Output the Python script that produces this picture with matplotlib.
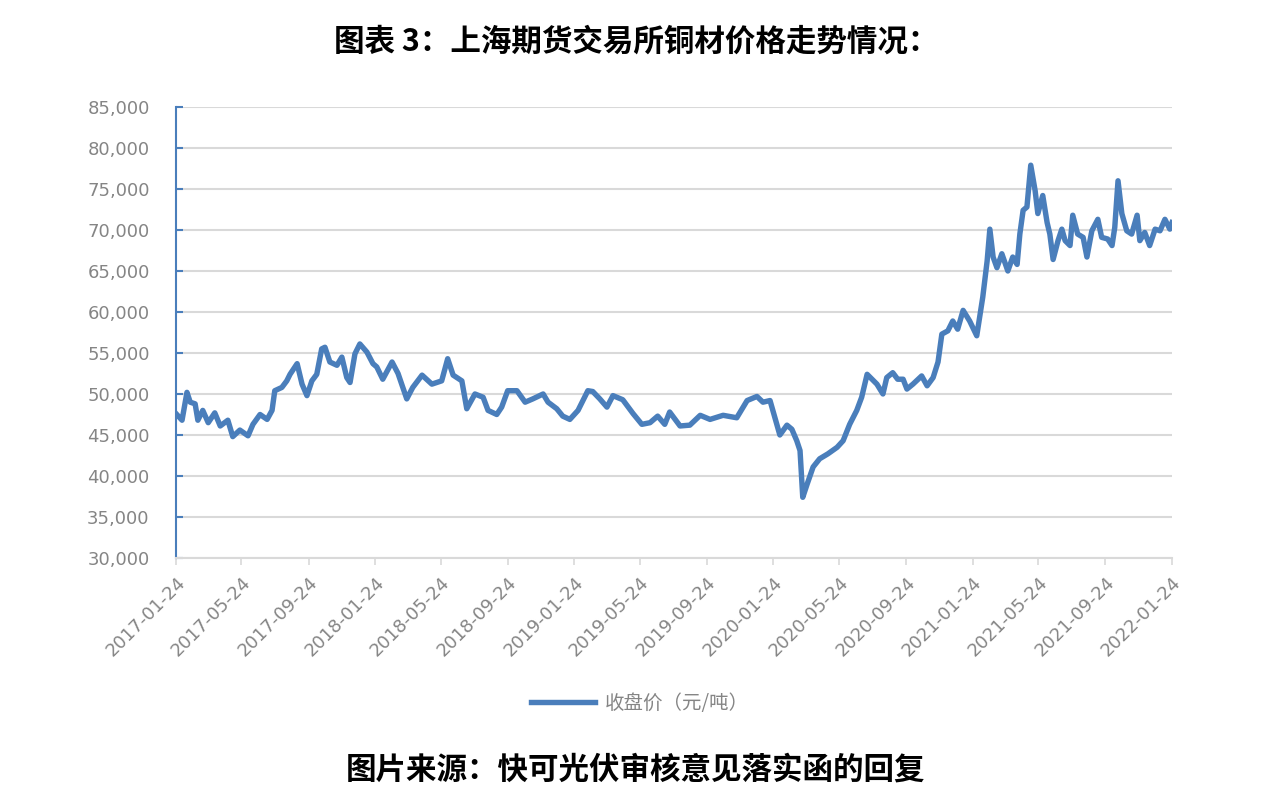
import numpy as np
import pandas as pd
import matplotlib
matplotlib.use('Agg')
import matplotlib.pyplot as plt
from matplotlib.ticker import FuncFormatter

plt.rcParams['font.family'] = ['Noto Sans CJK SC', 'DejaVu Sans']

# SHFE copper closing price
dates = [
    '2017-01-24', '2017-02-04', '2017-02-13', '2017-02-19', '2017-02-28', '2017-03-05', '2017-03-14',
    '2017-03-24', '2017-04-05', '2017-04-15', '2017-04-29', '2017-05-08', '2017-05-21', '2017-06-05',
    '2017-06-14', '2017-06-27', '2017-07-10', '2017-07-19', '2017-07-24', '2017-08-06', '2017-08-15',
    '2017-08-21', '2017-09-03', '2017-09-12', '2017-09-21', '2017-09-30', '2017-10-09', '2017-10-18',
    '2017-10-24', '2017-11-02', '2017-11-15', '2017-11-24', '2017-12-03', '2017-12-09', '2017-12-18',
    '2017-12-27', '2018-01-09', '2018-01-20', '2018-01-27', '2018-02-07', '2018-02-24', '2018-03-07',
    '2018-03-23', '2018-04-03', '2018-04-20', '2018-05-08', '2018-05-26', '2018-06-06', '2018-06-16',
    '2018-07-02', '2018-07-11', '2018-07-26', '2018-08-10', '2018-08-19', '2018-09-04', '2018-09-13',
    '2018-09-24', '2018-10-11', '2018-10-26', '2018-11-09', '2018-11-28', '2018-12-07', '2018-12-23',
    '2019-01-03', '2019-01-16', '2019-01-31', '2019-02-18', '2019-02-27', '2019-03-12', '2019-03-25',
    '2019-04-05', '2019-04-23', '2019-05-12', '2019-05-28', '2019-06-12', '2019-06-26', '2019-07-09',
    '2019-07-18', '2019-08-06', '2019-08-24', '2019-09-12', '2019-09-30', '2019-10-24', '2019-11-18',
    '2019-12-07', '2019-12-25', '2020-01-05', '2020-01-18', '2020-01-27', '2020-02-05', '2020-02-18',
    '2020-02-27', '2020-03-07', '2020-03-13', '2020-03-18', '2020-03-26', '2020-04-06', '2020-04-18',
    '2020-05-03', '2020-05-20', '2020-05-31', '2020-06-12', '2020-06-25', '2020-07-04', '2020-07-14',
    '2020-07-23', '2020-08-01', '2020-08-12', '2020-08-19', '2020-08-30', '2020-09-08', '2020-09-18',
    '2020-09-25', '2020-10-06', '2020-10-22', '2020-11-01', '2020-11-12', '2020-11-21', '2020-11-28',
    '2020-12-09', '2020-12-18', '2020-12-27', '2021-01-06', '2021-01-18', '2021-01-31', '2021-02-11',
    '2021-02-19', '2021-02-24', '2021-03-02', '2021-03-09', '2021-03-18', '2021-03-29', '2021-04-07',
    '2021-04-15', '2021-04-20', '2021-04-26', '2021-05-03', '2021-05-10', '2021-05-18', '2021-05-23',
    '2021-06-01', '2021-06-09', '2021-06-14', '2021-06-20', '2021-06-29', '2021-07-06', '2021-07-12',
    '2021-07-21', '2021-07-26', '2021-08-04', '2021-08-14', '2021-08-21', '2021-08-30', '2021-09-10',
    '2021-09-17', '2021-09-28', '2021-10-06', '2021-10-11', '2021-10-17', '2021-10-24', '2021-11-02',
    '2021-11-11', '2021-11-21', '2021-11-26', '2021-12-05', '2021-12-14', '2021-12-24', '2022-01-02',
    '2022-01-11', '2022-01-20', '2022-01-24',
]
prices = [
    47600, 46800, 50200, 49000, 48800, 46800, 48000,
    46500, 47700, 46100, 46800, 44800, 45600, 44900,
    46300, 47500, 46900, 48000, 50400, 50800, 51600,
    52400, 53700, 51200, 49800, 51600, 52400, 55500,
    55700, 53900, 53500, 54500, 52000, 51400, 54900,
    56100, 55100, 53700, 53300, 51800, 53900, 52500,
    49400, 50800, 52300, 51200, 51600, 54300, 52300,
    51600, 48200, 50000, 49600, 48000, 47500, 48400,
    50400, 50400, 49000, 49400, 50000, 49000, 48200,
    47300, 46900, 48000, 50400, 50300, 49400, 48400,
    49800, 49300, 47600, 46300, 46500, 47300, 46300,
    47800, 46100, 46200, 47400, 46900, 47400, 47100,
    49200, 49700, 49000, 49200, 47100, 45000, 46200,
    45700, 44300, 43100, 37400, 39000, 41100, 42100,
    42700, 43500, 44300, 46300, 48000, 49600, 52400,
    51800, 51200, 50000, 52000, 52600, 51800, 51800,
    50600, 51200, 52200, 51000, 52000, 53900, 57300,
    57700, 58900, 57900, 60200, 58900, 57100, 61800,
    66200, 70100, 66700, 65400, 67100, 65000, 66700,
    65800, 69500, 72400, 72800, 77900, 74800, 72000,
    74200, 70900, 69500, 66400, 68700, 70100, 68700,
    68100, 71800, 69500, 69100, 66700, 69900, 71300,
    69100, 68900, 68100, 70300, 76000, 72000, 69900,
    69500, 71800, 68700, 69700, 68100, 70100, 69900,
    71300, 70100, 70900,
]
tick_dates = ['2017-01-24', '2017-05-24', '2017-09-24', '2018-01-24', '2018-05-24', '2018-09-24',
              '2019-01-24', '2019-05-24', '2019-09-24', '2020-01-24', '2020-05-24', '2020-09-24',
              '2021-01-24', '2021-05-24', '2021-09-24', '2022-01-24']

title = '图表 3：上海期货交易所铜材价格走势情况：'
source = '图片来源：快可光伏审核意见落实函的回复'
series_name = '收盘价（元/吨）'

line_color = '#4a7ebb'
grey = '#858585'

x = pd.to_datetime(dates)
ticks = pd.to_datetime(tick_dates)

fig = plt.figure(figsize=(12.72, 8), dpi=100)
ax = fig.add_axes([0.1384, 0.3025, 0.783, 0.5638])

ax.plot(x, prices, color=line_color, linewidth=3.9, solid_joinstyle='round', label=series_name)

ax.set_ylim(30000, 85000)
ax.set_yticks(np.arange(30000, 85001, 5000))
ax.yaxis.set_major_formatter(FuncFormatter(lambda v, p: '{:,.0f}'.format(v)))
ax.set_xlim(ticks[0], ticks[-1])
ax.set_xticks(ticks)
ax.set_xticklabels(tick_dates, rotation=45, ha='right', rotation_mode='anchor')

ax.grid(axis='y', color='#d9d9d9', linewidth=1.5)
ax.set_axisbelow(True)
for side in ['top', 'right']:
    ax.spines[side].set_visible(False)
ax.spines['left'].set_color(line_color)
ax.spines['left'].set_linewidth(1.5)
ax.spines['bottom'].set_color('#d9d9d9')
ax.spines['bottom'].set_linewidth(1.5)

ax.tick_params(axis='y', direction='in', length=5, width=1.5, color=line_color,
               labelsize=13, labelcolor=grey, pad=19)
ax.tick_params(axis='x', direction='out', length=5, width=1.2, color='#d9d9d9',
               labelsize=13, labelcolor=grey, pad=6)
for lab in ax.get_xticklabels() + ax.get_yticklabels():
    lab.set_family(['DejaVu Sans'])

leg = fig.legend(loc='center', bbox_to_anchor=(0.503, 0.121), frameon=False,
                 fontsize=14, handlelength=3.3, handletextpad=0.5)
for t in leg.get_texts():
    t.set_color(grey)

fig.text(0.5, 0.948, title, ha='center', va='center', fontsize=22, fontweight='bold', color='black')
fig.text(0.5, 0.038, source, ha='center', va='center', fontsize=22, fontweight='bold', color='black')

fig.savefig('out.png', dpi=100)
